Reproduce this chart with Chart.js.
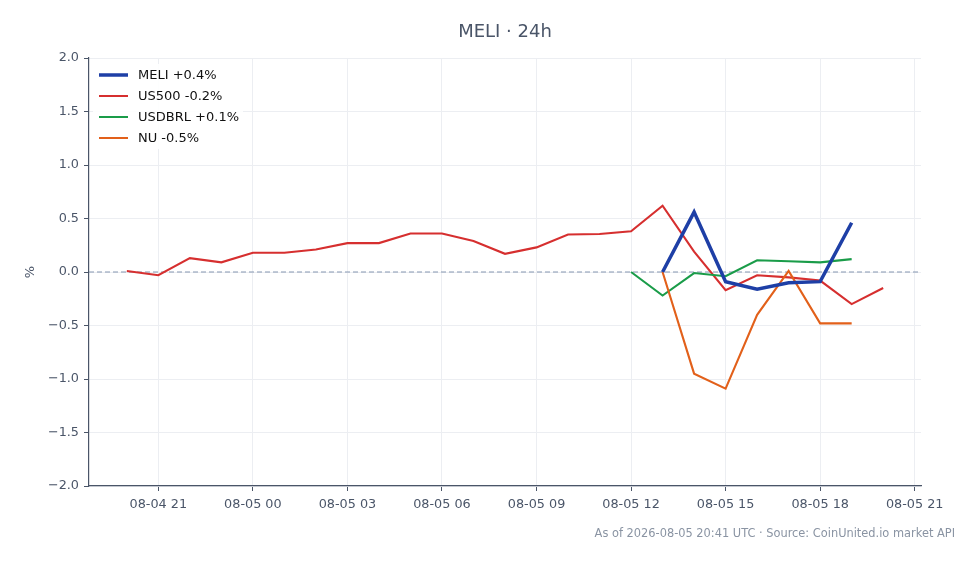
<!DOCTYPE html>
<html lang="en">
<head>
  <meta charset="UTF-8">
  <title>MELI 24h</title>
  <script src="https://cdn.jsdelivr.net/npm/chart.js@4.4.1/dist/chart.umd.min.js"></script>
  <style>
    * { margin: 0; padding: 0; box-sizing: border-box; }
    body { background: #fff; font-family: "DejaVu Sans", sans-serif; }
    #wrap { width: 979px; height: 564px; position: relative; }
  </style>
</head>
<body>
  <div id="wrap"><canvas id="myChart"></canvas></div>

<script>
  // hours relative to 08-05 00:00 UTC
  var usHours = [-4, -3, -2, -1, 0, 1, 2, 3, 4, 5, 6, 7, 8, 9, 10, 11, 12, 13, 14, 15, 16, 17, 18, 19, 20];
  var us500 = [0.01, -0.03, 0.13, 0.09, 0.18, 0.18, 0.21, 0.27, 0.27, 0.36, 0.36, 0.29, 0.17, 0.23, 0.35, 0.355, 0.38, 0.62, 0.19, -0.17, -0.03, -0.05, -0.08, -0.30, -0.15];

  var meliHours = [13, 14, 15, 16, 17, 18, 19];
  var meli = [0.0, 0.56, -0.09, -0.16, -0.10, -0.09, 0.46];

  var brlHours = [12, 13, 14, 15, 16, 17, 18, 19];
  var usdbrl = [0.0, -0.22, -0.01, -0.04, 0.11, 0.10, 0.09, 0.12];

  var nuHours = [13, 14, 15, 16, 17, 18, 19];
  var nu = [0.0, -0.95, -1.09, -0.40, 0.01, -0.48, -0.48];

  var xTicks = [-3, 0, 3, 6, 9, 12, 15, 18, 21];
  var xTickLabels = ["08-04 21", "08-05 00", "08-05 03", "08-05 06", "08-05 09", "08-05 12", "08-05 15", "08-05 18", "08-05 21"];
  var yTicks = [-2, -1.5, -1, -0.5, 0, 0.5, 1, 1.5, 2];

  var labels = ["MELI +0.4%", "US500 -0.2%", "USDBRL +0.1%", "NU -0.5%"];
  var colors = ["#1e3fa6", "#d62f2f", "#1a9c49", "#e2601a"];

  function pts(xs, ys) {
    return xs.map(function (h, i) { return { x: h, y: ys[i] }; });
  }

  var FONT = "'DejaVu Sans', sans-serif";

  // title, footer, y title, zero line and legend box
  var extras = {
    id: 'extras',
    beforeDatasetsDraw: function (chart) {
      var c = chart.ctx, a = chart.chartArea, y0 = chart.scales.y.getPixelForValue(0);
      c.save();
      c.strokeStyle = '#8596b0';
      c.lineWidth = 1;
      c.setLineDash([5, 3]);
      c.beginPath();
      c.moveTo(a.left, y0);
      c.lineTo(a.right, y0);
      c.stroke();
      c.restore();
    },
    afterDraw: function (chart) {
      var c = chart.ctx;
      c.save();
      c.fillStyle = '#4a5568';
      c.font = '18px ' + FONT;
      c.textAlign = 'center';
      c.textBaseline = 'middle';
      c.fillText('MELI \u00b7 24h', 505, 32);

      c.fillStyle = '#8a94a3';
      c.font = '11.4px ' + FONT;
      c.textAlign = 'right';
      c.fillText('As of 2026-08-05 20:41 UTC \u00b7 Source: CoinUnited.io market API', 955, 534);

      c.fillStyle = '#4a5568';
      c.font = '13px ' + FONT;
      c.translate(31, 272);
      c.rotate(-Math.PI / 2);
      c.textAlign = 'center';
      c.fillText('%', 0, 0);
      c.restore();

      // legend
      c.save();
      c.fillStyle = 'rgba(255,255,255,0.9)';
      c.fillRect(93, 64, 150, 85);
      c.font = '13px ' + FONT;
      c.textBaseline = 'middle';
      c.textAlign = 'left';
      for (var i = 0; i < labels.length; i++) {
        var ly = 75 + i * 21;
        c.strokeStyle = colors[i];
        c.lineWidth = i === 0 ? 3.5 : 2;
        c.beginPath();
        c.moveTo(99, ly);
        c.lineTo(128, ly);
        c.stroke();
        c.fillStyle = '#111';
        c.fillText(labels[i], 138, ly + 1);
      }
      c.restore();
    }
  };

  var myChart = new Chart("myChart", {
    type: "line",
    data: {
      datasets: [{
        label: labels[0],
        data: pts(meliHours, meli),
        borderColor: colors[0],
        borderWidth: 3.5,
        pointRadius: 0,
        fill: false,
        order: 0
      }, {
        label: labels[1],
        data: pts(usHours, us500),
        borderColor: colors[1],
        borderWidth: 2.1,
        pointRadius: 0,
        fill: false,
        order: 3
      }, {
        label: labels[2],
        data: pts(brlHours, usdbrl),
        borderColor: colors[2],
        borderWidth: 2.1,
        pointRadius: 0,
        fill: false,
        order: 2
      }, {
        label: labels[3],
        data: pts(nuHours, nu),
        borderColor: colors[3],
        borderWidth: 2.1,
        pointRadius: 0,
        fill: false,
        order: 1
      }]
    },
    options: {
      responsive: true,
      maintainAspectRatio: false,
      animation: false,
      layout: { padding: { left: 0, right: 58, top: 58, bottom: 0 } },
      plugins: { legend: { display: false }, tooltip: { enabled: false } },
      scales: {
        x: {
          type: 'linear',
          min: -5.2,
          max: 21.2,
          afterBuildTicks: function (s) { s.ticks = xTicks.map(function (v) { return { value: v }; }); },
          afterFit: function (s) { s.height = 78; },
          ticks: {
            color: '#4a5568',
            font: { family: FONT, size: 12.8 },
            padding: 6,
            maxRotation: 0,
            callback: function (v) { return xTickLabels[xTicks.indexOf(v)]; }
          },
          grid: { color: '#eceef2', tickColor: '#4a5568', tickLength: 5, lineWidth: 1 },
          border: { color: '#4a5568', width: 1.2 }
        },
        y: {
          min: -2,
          max: 2,
          afterBuildTicks: function (s) { s.ticks = yTicks.map(function (v) { return { value: v }; }); },
          afterFit: function (s) { s.width = 89; },
          ticks: {
            color: '#4a5568',
            font: { family: FONT, size: 12.8 },
            padding: 5,
            callback: function (v) { return v.toFixed(1).replace('-', '\u2212'); }
          },
          grid: { color: '#eceef2', tickColor: '#4a5568', tickLength: 5, lineWidth: 1 },
          border: { color: '#4a5568', width: 1.2 }
        }
      }
    },
    plugins: [extras]
  });
</script>
</body>
</html>
